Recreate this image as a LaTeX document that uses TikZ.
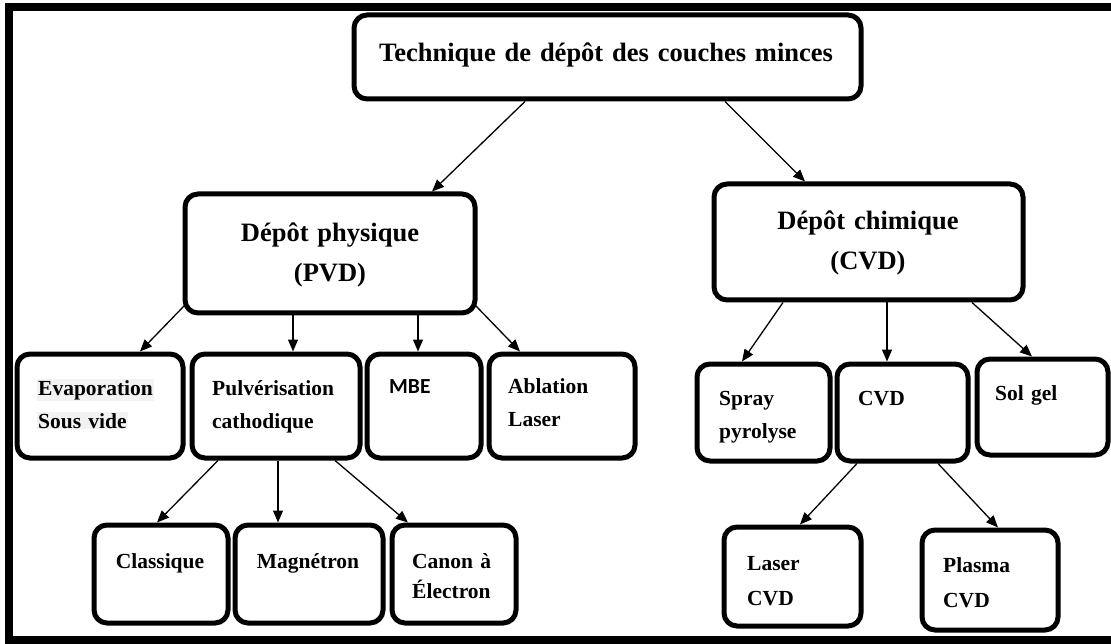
\documentclass[tikz,border=0pt]{standalone}
\usepackage{fontspec}
\setmainfont{Liberation Serif}
\newfontfamily\mbefont{Carlito}
\usetikzlibrary{arrows.meta}
\definecolor{hilite}{gray}{0.95}
\newcommand\shaded[1]{{\setlength{\fboxsep}{1pt}\colorbox{hilite}{#1}}}
\tikzset{
  box/.style={draw, line width=5pt, rounded corners=13pt, inner sep=0pt},
  conn/.style={line width=1.3pt, -{Triangle[length=12pt,width=10pt]}},
  bigtext/.style={inner sep=0pt, anchor=base, align=center, text width=300pt,
    font=\bfseries\fontsize{26.5}{40}\selectfont},
  smalltext/.style={inner sep=0pt, anchor=base west, align=left, text width=140pt,
    font=\bfseries\fontsize{21.5}{33}\selectfont},
  midtext/.style={inner sep=0pt, anchor=base, align=center, text width=140pt,
    font=\bfseries\fontsize{21.5}{33}\selectfont},
}
\begin{document}
\begin{tikzpicture}[x=1pt,y=-1pt]
\useasboundingbox (0,0) rectangle (1111,644);
% outer frame, open on the right
\draw[line width=8pt, line join=miter] (1115,7) -- (9,7) -- (9,640) -- (1115,640);

% boxes
\node[box, minimum width=507pt, minimum height=84pt]  (top)    at (607.5,57)  {};
\node[box, minimum width=290pt, minimum height=119pt] (pvd)    at (330,253.5) {};
\node[box, minimum width=309pt, minimum height=116pt] (cvd)    at (868.5,242) {};
\node[box, minimum width=166pt, minimum height=104pt] (evap)   at (100,406)   {};
\node[box, minimum width=168pt, minimum height=104pt] (pulv)   at (276,406)   {};
\node[box, minimum width=114pt, minimum height=104pt] (mbe)    at (424,406)   {};
\node[box, minimum width=146pt, minimum height=104pt] (abl)    at (562,406)   {};
\node[box, minimum width=133pt, minimum height=97pt]  (spray)  at (763.5,412.5) {};
\node[box, minimum width=131pt, minimum height=97pt]  (cvdb)   at (902.5,412.5) {};
\node[box, minimum width=131pt, minimum height=96pt]  (sol)    at (1042.5,407) {};
\node[box, minimum width=134pt, minimum height=98pt]  (clas)   at (161,574)   {};
\node[box, minimum width=148pt, minimum height=98pt]  (mag)    at (309,574)   {};
\node[box, minimum width=124pt, minimum height=98pt]  (canon)  at (454,574)   {};
\node[box, minimum width=137pt, minimum height=99pt]  (laser)  at (792.5,576.5) {};
\node[box, minimum width=136pt, minimum height=100pt] (plasma) at (990,580)   {};

% labels
\node[bigtext, text width=500pt] (top-t) at (606,62) {Technique de dépôt des couches minces};
\node[bigtext] (pvd-t) at (330,242) {Dépôt physique\\(PVD)};
\node[bigtext] (cvd-t) at (868,230) {Dépôt chimique\\(CVD)};
\node[smalltext, xshift=-1pt] (evap-t) at (38,395) {\shaded{Evaporation}\\\shaded{Sous vide}};
\node[smalltext] (pulv-t) at (212,395) {Pulvérisation\\cathodique};
\node[smalltext, font=\mbefont\bfseries\fontsize{21.5}{33}\selectfont] (mbe-t) at (389,393) {MBE};
\node[smalltext] (abl-t) at (508,393) {Ablation\\Laser};
\node[smalltext] (spray-t) at (719,405) {Spray\\pyrolyse};
\node[smalltext] (cvdb-t) at (858,405) {CVD};
\node[smalltext] (sol-t) at (995,400) {Sol gel};
\node[midtext] (clas-t) at (160,568) {Classique};
\node[midtext] (mag-t) at (308,568) {Magnétron};
\node[smalltext, font=\bfseries\fontsize{21.5}{30}\selectfont] (canon-t) at (412,568) {Canon à\\Électron};
\node[smalltext, font=\bfseries\fontsize{21.5}{35}\selectfont] (laser-t) at (747,570) {Laser\\CVD};
\node[smalltext, font=\bfseries\fontsize{21.5}{35}\selectfont] (plasma-t) at (943,572) {Plasma\\CVD};

% connectors
\draw[conn] ([xshift=-82.5pt]top.south) -- ([xshift=102pt]pvd.north);
\draw[conn] ([xshift=117.5pt]top.south) -- ([xshift=-63.5pt]cvd.north);
\draw[conn] ([xshift=2pt,yshift=10pt]pvd.south west) -- ([xshift=40pt]evap.north);
\draw[conn] ([xshift=-37pt]pvd.south) -- ([xshift=17pt]pulv.north);
\draw[conn] ([xshift=88pt]pvd.south) -- ([xshift=-6pt]mbe.north);
\draw[conn] ([xshift=-2pt,yshift=10pt]pvd.south east) -- ([xshift=-42pt]abl.north);
\draw[conn] ([xshift=-85.5pt]cvd.south) -- ([xshift=-21.5pt]spray.north);
\draw[conn] ([xshift=18.5pt]cvd.south) -- ([xshift=-15.5pt]cvdb.north);
\draw[conn] ([xshift=103.5pt]cvd.south) -- ([xshift=-10.5pt]sol.north);
\draw[conn] ([xshift=-58pt]pulv.south) -- ([xshift=-4pt]clas.north);
\draw[conn] ([xshift=2pt]pulv.south) -- ([xshift=-31pt]mag.north);
\draw[conn] ([xshift=59pt]pulv.south) -- ([xshift=-46pt]canon.north);
\draw[conn] ([xshift=-45.5pt]cvdb.south) -- ([xshift=7.5pt]laser.north);
\draw[conn] ([xshift=35.5pt]cvdb.south) -- ([xshift=8pt]plasma.north);
\end{tikzpicture}
\end{document}
